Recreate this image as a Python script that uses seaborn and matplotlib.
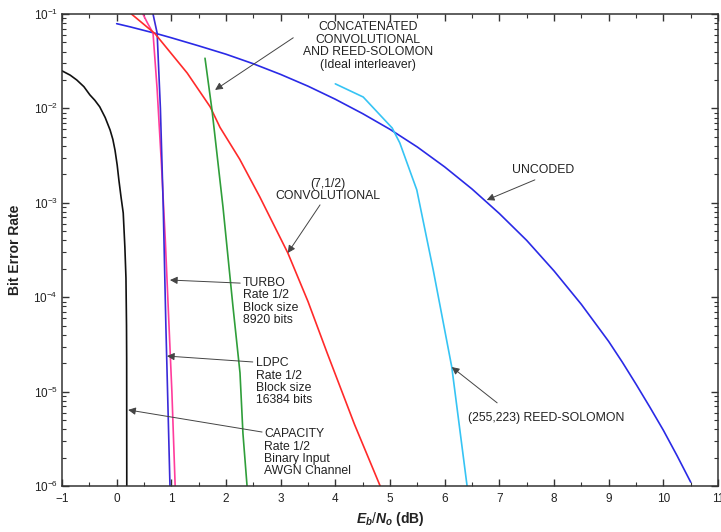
import numpy as np
import pandas as pd
import matplotlib
matplotlib.use("Agg")
import matplotlib.pyplot as plt
import seaborn as sns

# ---------------- data ----------------
uncoded_x = [0.0, 0.25, 0.5, 0.75, 1.0, 1.5, 2.0, 2.5, 3.0, 3.5, 4.0, 4.5, 5.0,
             5.5, 6.0, 6.5, 7.0, 7.5, 8.0, 8.5, 9.0, 9.25, 9.5, 9.75, 10.0,
             10.25, 10.5]
uncoded_y = [7.9e-2, 7.3e-2, 6.7e-2, 6.15e-2, 5.6e-2, 4.6e-2, 3.75e-2, 2.97e-2,
             2.29e-2, 1.72e-2, 1.25e-2, 8.8e-3, 6.0e-3, 3.9e-3, 2.4e-3, 1.4e-3,
             7.7e-4, 4.0e-4, 1.9e-4, 8.4e-5, 3.4e-5, 2.05e-5, 1.2e-5, 6.9e-6,
             3.9e-6, 2.1e-6, 1.1e-6]

capacity_x = [-1.0, -0.85, -0.73, -0.6, -0.49, -0.4, -0.31, -0.21, -0.12, -0.07,
              -0.03, 0.01, 0.04, 0.08, 0.12, 0.15, 0.17, 0.18, 0.183, 0.185]
capacity_y = [2.5e-2, 2.25e-2, 2.0e-2, 1.7e-2, 1.39e-2, 1.22e-2, 1.04e-2,
              8.0e-3, 5.9e-3, 4.7e-3, 3.6e-3, 2.5e-3, 1.75e-3, 1.15e-3, 7.8e-4,
              3.4e-4, 1.6e-4, 5e-5, 2.2e-5, 1.0e-6]

turbo_x = [0.48, 0.57, 0.665, 0.74, 0.82, 0.89, 0.95, 1.01, 1.07]
turbo_y = [1.0e-1, 7.9e-2, 6.3e-2, 1.6e-2, 2.5e-3, 4.0e-4, 6.3e-5, 1.0e-5, 1.0e-6]

ldpc_x = [0.665, 0.74, 0.80, 0.85, 0.90, 0.94, 0.975]
ldpc_y = [1.0e-1, 6.3e-2, 1.0e-2, 1.0e-3, 5.0e-5, 6.3e-6, 1.0e-6]

conv_x = [0.27, 0.70, 1.29, 1.71, 1.89, 2.25, 2.62, 3.13, 3.50, 3.85, 4.35, 4.82]
conv_y = [1.0e-1, 6.2e-2, 2.37e-2, 1.04e-2, 6.3e-3, 2.9e-3, 1.15e-3, 2.95e-4,
          9.0e-5, 2.57e-5, 4.5e-6, 1.0e-6]

concat_x = [1.616, 1.744, 1.945, 2.128, 2.256, 2.31, 2.385]
concat_y = [3.4e-2, 9.6e-3, 9.0e-4, 7.9e-5, 1.58e-5, 3.6e-6, 1.0e-6]

rs_x = [4.0, 4.51, 5.04, 5.18, 5.49, 5.79, 6.13, 6.41]
rs_y = [1.82e-2, 1.32e-2, 6.2e-3, 4.3e-3, 1.37e-3, 1.95e-4, 1.82e-5, 1.0e-6]

curve_names = ["UNCODED", "CAPACITY", "TURBO", "LDPC", "CONV", "CONCAT", "RS"]
curve_colors = ["#2a2ae6", "#111111", "#ff3c9c", "#3a2ad8", "#ff2a2a",
                "#2f9e3a", "#36c4f4"]

x_ticks = list(range(-1, 12))

# ---------------- figure ----------------
sns.set_style("ticks")
plt.rcParams["font.family"] = ["Liberation Sans", "DejaVu Sans"]
plt.rcParams["mathtext.fontset"] = "custom"
plt.rcParams["mathtext.rm"] = "Liberation Sans"
plt.rcParams["mathtext.it"] = "Liberation Sans:bold:italic"
plt.rcParams["mathtext.bf"] = "Liberation Sans:bold"

fig = plt.figure(figsize=(7.21, 5.32), dpi=100)
ax = fig.add_axes([62 / 721, 46 / 532, (718 - 62) / 721, (486 - 14) / 532])

frames = []
for name, xs, ys in zip(curve_names,
                        [uncoded_x, capacity_x, turbo_x, ldpc_x, conv_x, concat_x, rs_x],
                        [uncoded_y, capacity_y, turbo_y, ldpc_y, conv_y, concat_y, rs_y]):
    frames.append(pd.DataFrame({"ebno": xs, "ber": ys, "code": name}))
df = pd.concat(frames, ignore_index=True)

sns.lineplot(data=df, x="ebno", y="ber", hue="code", hue_order=curve_names,
             palette=dict(zip(curve_names, curve_colors)), estimator=None,
             sort=False, legend=False, linewidth=1.2, ax=ax)

ax.set_yscale("log")
ax.set_xlim(-1, 11)
ax.set_ylim(1e-6, 1e-1)
ax.set_xticks(x_ticks)
ax.set_xticks(np.arange(-0.5, 11, 1.0), minor=True)
ax.tick_params(which="both", direction="in", top=True, right=True,
               color="#333333", labelsize=8.5, labelcolor="#222222")
ax.tick_params(which="major", length=5, width=1.0)
ax.tick_params(which="minor", length=3, width=0.8)
ax.tick_params(axis="x", pad=5)
ax.tick_params(axis="y", pad=3)
for s in ax.spines.values():
    s.set_color("#333333")
    s.set_linewidth(1.1)

ax.set_ylabel("Bit Error Rate", fontsize=10, fontweight="bold", color="#222222",
              labelpad=8)
ax.set_xlabel(r"$E_b/N_o$ (dB)", fontsize=10, fontweight="bold", color="#222222",
              labelpad=4)

# ---------------- annotations ----------------
txt_kw = dict(fontsize=8.8, color="#222222", linespacing=1.05)
arrow_kw = dict(arrowstyle="-|>", color="#444444", lw=0.7, mutation_scale=11,
                shrinkA=0, shrinkB=0)

def arrow(tip, tail):
    ax.annotate("", xy=tip, xytext=tail, arrowprops=arrow_kw)

ax.text(4.60, 4.6e-2, "CONCATENATED\nCONVOLUTIONAL\nAND REED-SOLOMON\n(Ideal interleaver)",
        ha="center", va="center", multialignment="center", **txt_kw)
arrow((1.80, 1.57e-2), (3.23, 5.6e-2))

ax.text(3.87, 1.37e-3, "(7,1/2)\nCONVOLUTIONAL", ha="center", va="center",
        multialignment="center", **txt_kw)
arrow((3.13, 2.94e-4), (3.72, 9.5e-4))

ax.text(2.31, 9.0e-5, "TURBO\nRate 1/2\nBlock size\n8920 bits", ha="left",
        va="center", **txt_kw)
arrow((0.975, 1.52e-4), (2.26, 1.41e-4))

ax.text(2.55, 1.27e-5, "LDPC\nRate 1/2\nBlock size\n16384 bits", ha="left",
        va="center", **txt_kw)
arrow((0.92, 2.38e-5), (2.49, 2.06e-5))

ax.text(2.70, 2.25e-6, "CAPACITY\nRate 1/2\nBinary Input\nAWGN Channel",
        ha="left", va="center", **txt_kw)
arrow((0.21, 6.4e-6), (2.66, 3.73e-6))

ax.text(7.80, 2.22e-3, "UNCODED", ha="center", va="center", **txt_kw)
arrow((6.77, 1.07e-3), (7.65, 1.75e-3))

ax.text(6.43, 5.25e-6, "(255,223) REED-SOLOMON", ha="left", va="center", **txt_kw)
arrow((6.13, 1.82e-5), (6.96, 7.6e-6))

fig.savefig("out.png", dpi=100)
